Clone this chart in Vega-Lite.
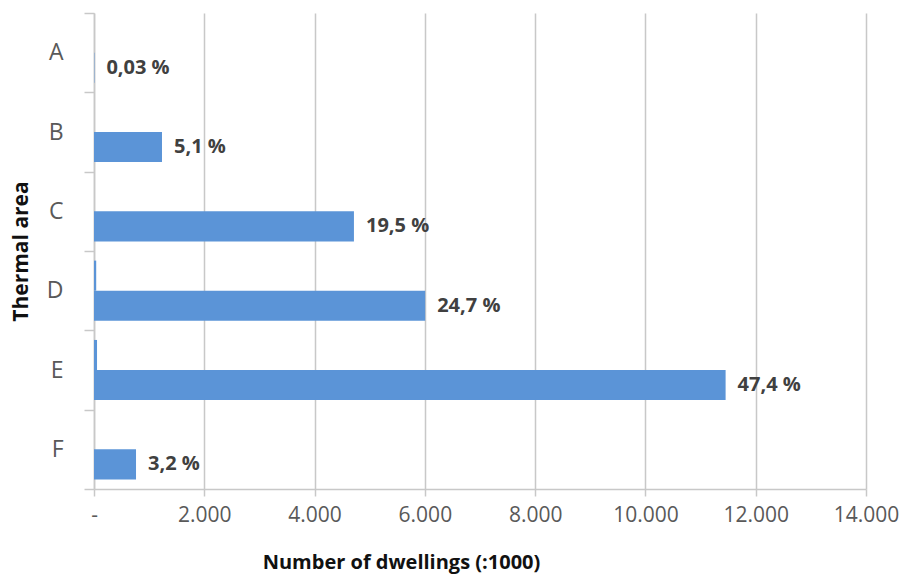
{
  "$schema": "https://vega.github.io/schema/vega-lite/v6.json",
  "autosize": {"type": "none"},
  "width": 772,
  "height": 476,
  "padding": {"left": 94, "top": 13, "right": 38, "bottom": 87},
  "background": "white",
  "config": {"view": {"stroke": null}},
  "data": {
    "values": [
      {"area": "A", "series": "main", "dwellings": 7, "label": "0,03 %"},
      {"area": "B", "series": "main", "dwellings": 1233, "label": "5,1 %"},
      {"area": "C", "series": "main", "dwellings": 4714, "label": "19,5 %"},
      {"area": "D", "series": "main", "dwellings": 6006, "label": "24,7 %"},
      {"area": "E", "series": "main", "dwellings": 11454, "label": "47,4 %"},
      {"area": "F", "series": "main", "dwellings": 762, "label": "3,2 %"},
      {"area": "A", "series": "other", "dwellings": 0, "label": ""},
      {"area": "B", "series": "other", "dwellings": 0, "label": ""},
      {"area": "C", "series": "other", "dwellings": 0, "label": ""},
      {"area": "D", "series": "other", "dwellings": 40, "label": ""},
      {"area": "E", "series": "other", "dwellings": 55, "label": ""},
      {"area": "F", "series": "other", "dwellings": 0, "label": ""}
    ]
  },
  "encoding": {
    "y": {
      "field": "area",
      "type": "nominal",
      "sort": ["A", "B", "C", "D", "E", "F"],
      "scale": {"paddingInner": 0, "paddingOuter": 0},
      "axis": {
        "title": "Thermal area",
        "titleFont": "Open Sans",
        "titleFontSize": 21,
        "titleFontWeight": "bold",
        "titleColor": "#111111",
        "titleAngle": -90,
        "titleX": -67,
        "titleBaseline": "alphabetic",
        "labelFont": "Open Sans",
        "labelFontSize": 23,
        "labelColor": "#595959",
        "labelPadding": 21,
        "tickBand": "extent",
        "tickSize": 10,
        "tickColor": "#c8c8c8",
        "tickWidth": 1.5,
        "domainColor": "#c8c8c8",
        "domainWidth": 1.5,
        "grid": false
      }
    },
    "yOffset": {
      "field": "series",
      "type": "nominal",
      "scale": {"domain": ["other", "main"], "paddingInner": 0, "paddingOuter": 0.32}
    },
    "x": {
      "field": "dwellings",
      "type": "quantitative",
      "scale": {"domain": [0, 14000], "nice": false},
      "axis": {
        "title": "Number of dwellings (:1000)",
        "titleFont": "Open Sans",
        "titleFontSize": 20,
        "titleFontWeight": "bold",
        "titleColor": "#111111",
        "titleX": 307,
        "titleY": 79,
        "titleBaseline": "alphabetic",
        "values": [0, 2000, 4000, 6000, 8000, 10000, 12000, 14000],
        "labelExpr": "datum.value == 0 ? '-' : replace(format(datum.value, ','), ',', '.')",
        "labelFont": "Open Sans",
        "labelFontSize": 21,
        "labelColor": "#595959",
        "labelPadding": 8,
        "labelFlush": false,
        "labelOverlap": false,
        "labelBound": false,
        "tickSize": 7,
        "tickColor": "#c8c8c8",
        "tickWidth": 1.5,
        "domainColor": "#c8c8c8",
        "domainWidth": 1.5,
        "grid": true,
        "gridColor": "#c8c8c8",
        "gridWidth": 1.5
      }
    }
  },
  "layer": [
    {
      "mark": {"type": "bar", "color": "#5B94D7"}
    },
    {
      "mark": {
        "type": "text",
        "align": "left",
        "baseline": "middle",
        "dx": 12,
        "font": "Open Sans",
        "fontSize": 20,
        "fontWeight": "bold",
        "color": "#404040"
      },
      "encoding": {"text": {"field": "label"}}
    }
  ]
}
